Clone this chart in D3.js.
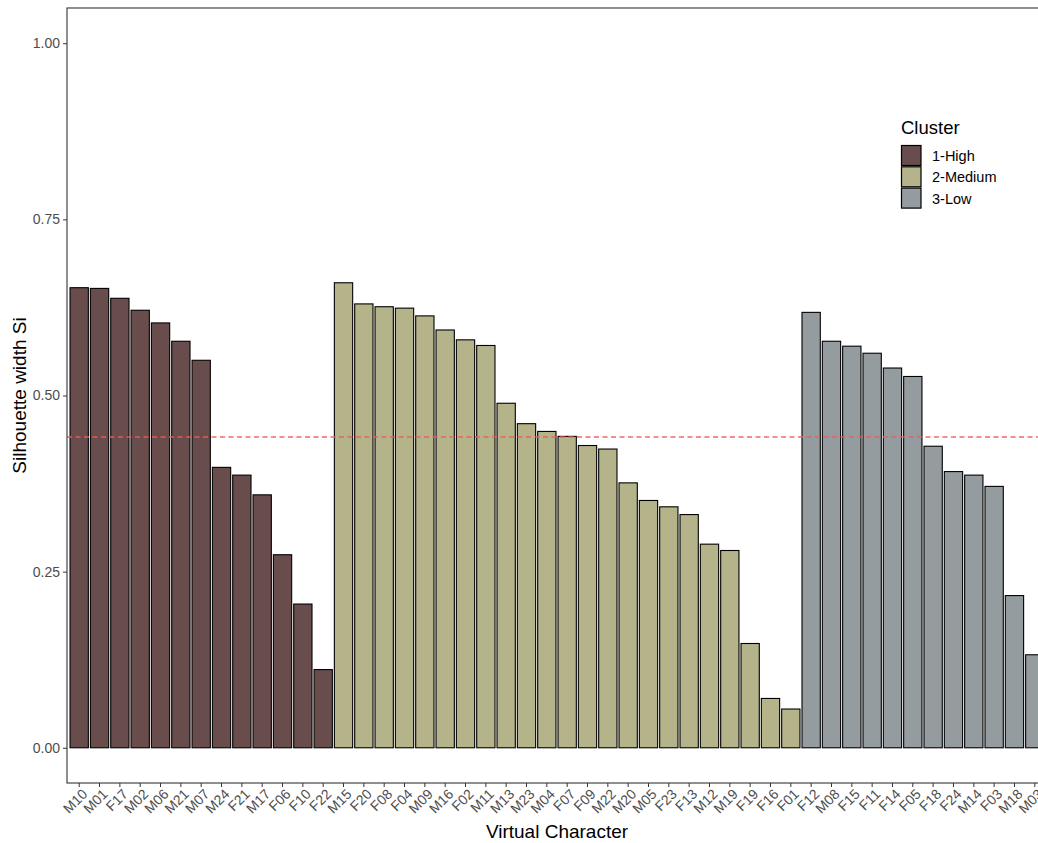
<!DOCTYPE html>
<html>
<head>
<meta charset="utf-8">
<script src="https://cdn.jsdelivr.net/npm/d3@7"></script>
<style>
  body { margin: 0; background: #fff; }
  svg { display: block; font-family: "Liberation Sans", Arial, sans-serif; }
</style>
</head>
<body>
<div id="container"></div>
<script>
// characters in plotted order, with their cluster and silhouette width
var characters = ["M10","M01","F17","M02","M06","M21","M07","M24","F21","M17","F06","F10","F22",
  "M15","F20","F08","F04","M09","M16","F02","M11","M13","M23","M04","F07","F09","M22","M20","M05","F23","F13","M12","M19","F19","F16","F01",
  "F12","M08","F15","F11","F14","F05","F18","F24","M14","F03","M18","M03"];
var clusters = ["1-High","1-High","1-High","1-High","1-High","1-High","1-High","1-High","1-High","1-High","1-High","1-High","1-High",
  "2-Medium","2-Medium","2-Medium","2-Medium","2-Medium","2-Medium","2-Medium","2-Medium","2-Medium","2-Medium","2-Medium","2-Medium","2-Medium","2-Medium","2-Medium","2-Medium","2-Medium","2-Medium","2-Medium","2-Medium","2-Medium","2-Medium","2-Medium",
  "3-Low","3-Low","3-Low","3-Low","3-Low","3-Low","3-Low","3-Low","3-Low","3-Low","3-Low","3-Low"];
var silWidth = [0.653,0.652,0.638,0.621,0.603,0.577,0.550,0.398,0.387,0.359,0.274,0.204,0.111,
  0.660,0.630,0.626,0.624,0.613,0.593,0.579,0.571,0.489,0.460,0.449,0.442,0.429,0.424,0.376,0.351,0.342,0.331,0.289,0.280,0.148,0.070,0.055,
  0.618,0.577,0.570,0.560,0.539,0.527,0.428,0.392,0.387,0.371,0.216,0.132];
var clusterNames = ["1-High","2-Medium","3-Low"];
var clusterColors = ["#694d4d","#b5b38a","#959ca0"];
var yTicks = [0, 0.25, 0.5, 0.75, 1.0];
var avgWidth = 0.441;

var width = 1038, height = 843;
var panelLeft = 67, panelRight = 1047, panelTop = 8, panelBottom = 783;

var data = characters.map(function(c, i) {
  return { name: c, cluster: clusters[i], value: silWidth[i] };
});

var svg = d3.select('#container').append('svg')
  .attr('width', width)
  .attr('height', height);

var x = d3.scaleBand()
  .domain(characters)
  .range([panelLeft, panelRight])
  .paddingInner(0.1)
  .paddingOuter(0.15);

var y = d3.scaleLinear()
  .domain([-0.05, 1.05])
  .range([panelBottom, panelTop]);

var color = d3.scaleOrdinal().domain(clusterNames).range(clusterColors);

// bars
svg.append('g')
  .selectAll('rect')
  .data(data)
  .enter()
  .append('rect')
  .attr('x', function(d) { return x(d.name); })
  .attr('y', function(d) { return y(d.value); })
  .attr('width', x.bandwidth())
  .attr('height', function(d) { return y(0) - y(d.value); })
  .attr('fill', function(d) { return color(d.cluster); })
  .attr('stroke', '#000')
  .attr('stroke-width', 1.1);

// mean silhouette line
svg.append('line')
  .attr('x1', panelLeft).attr('x2', panelRight)
  .attr('y1', y(avgWidth)).attr('y2', y(avgWidth))
  .attr('stroke', '#f05a5a')
  .attr('stroke-opacity', 0.9)
  .attr('stroke-width', 1.5)
  .attr('stroke-dasharray', '5,3.5');

// panel border
svg.append('rect')
  .attr('x', panelLeft).attr('y', panelTop)
  .attr('width', panelRight - panelLeft).attr('height', panelBottom - panelTop)
  .attr('fill', 'none')
  .attr('stroke', '#333')
  .attr('stroke-width', 1.1);

// y axis
var yAxis = svg.append('g')
  .attr('transform', 'translate(' + panelLeft + ',0)')
  .call(d3.axisLeft(y).tickValues(yTicks).tickFormat(d3.format('.2f')).tickSize(4).tickPadding(3));
yAxis.select('.domain').remove();
yAxis.selectAll('.tick line').attr('stroke', '#333');
yAxis.selectAll('.tick text').attr('fill', '#4d4d4d').style('font-size', '14px');

// x axis
var xAxis = svg.append('g')
  .attr('transform', 'translate(0,' + panelBottom + ')')
  .call(d3.axisBottom(x).tickSize(4).tickPadding(2));
xAxis.select('.domain').remove();
xAxis.selectAll('.tick line').attr('stroke', '#333');
xAxis.selectAll('.tick text')
  .attr('fill', '#4d4d4d')
  .style('font-size', '14px')
  .attr('text-anchor', 'end')
  .attr('x', 0)
  .attr('y', 0)
  .attr('dy', '0')
  .attr('transform', 'translate(9,12) rotate(-45)');

// axis titles
svg.append('text')
  .attr('x', (panelLeft + panelRight) / 2)
  .attr('y', 838)
  .attr('text-anchor', 'middle')
  .style('font-size', '19px')
  .text('Virtual Character');

svg.append('text')
  .attr('transform', 'translate(26,' + ((panelTop + panelBottom) / 2) + ') rotate(-90)')
  .attr('text-anchor', 'middle')
  .style('font-size', '19px')
  .text('Silhouette width Si');

// legend
var legend = svg.append('g').attr('transform', 'translate(901,0)');
legend.append('text')
  .attr('x', 0).attr('y', 134)
  .style('font-size', '18.5px')
  .text('Cluster');
var keys = legend.selectAll('.key')
  .data(clusterNames)
  .enter()
  .append('g')
  .attr('class', 'key')
  .attr('transform', function(d, i) { return 'translate(0,' + (145 + i * 21.3) + ')'; });
keys.append('rect')
  .attr('x', 0.5).attr('y', 0.5)
  .attr('width', 19.5).attr('height', 20)
  .attr('fill', function(d) { return color(d); })
  .attr('stroke', '#000')
  .attr('stroke-width', 1.2);
keys.append('text')
  .attr('x', 31).attr('y', 16)
  .style('font-size', '14.5px')
  .text(function(d) { return d; });
</script>
</body>
</html>
